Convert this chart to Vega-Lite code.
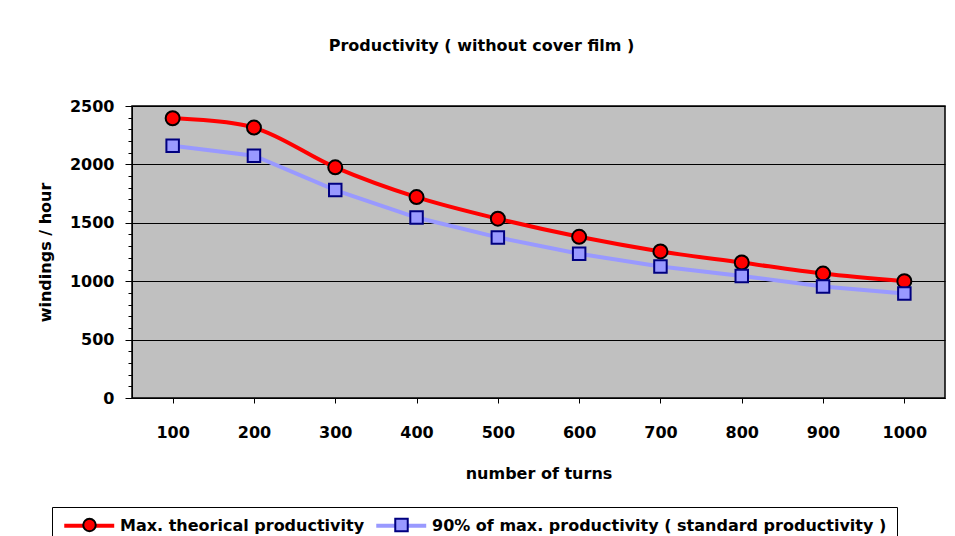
{
  "$schema": "https://vega.github.io/schema/vega-lite/v6.json",
  "width": 813,
  "height": 292,
  "autosize": "none",
  "padding": {"left": 132, "top": 106, "right": 10, "bottom": 138},
  "background": "white",
  "title": {
    "text": "Productivity ( without cover film )",
    "font": "DejaVu Sans",
    "fontSize": 16,
    "fontWeight": "bold",
    "color": "black",
    "anchor": "middle",
    "dx": -57,
    "offset": 44
  },
  "data": {
    "values": [
      {"turns": 100, "series": "Max. theorical productivity", "value": 2395},
      {"turns": 200, "series": "Max. theorical productivity", "value": 2315},
      {"turns": 300, "series": "Max. theorical productivity", "value": 1975},
      {"turns": 400, "series": "Max. theorical productivity", "value": 1720},
      {"turns": 500, "series": "Max. theorical productivity", "value": 1535},
      {"turns": 600, "series": "Max. theorical productivity", "value": 1380},
      {"turns": 700, "series": "Max. theorical productivity", "value": 1255},
      {"turns": 800, "series": "Max. theorical productivity", "value": 1160},
      {"turns": 900, "series": "Max. theorical productivity", "value": 1065},
      {"turns": 1000, "series": "Max. theorical productivity", "value": 1000},
      {"turns": 100, "series": "90% of max. productivity ( standard productivity )", "value": 2160},
      {"turns": 200, "series": "90% of max. productivity ( standard productivity )", "value": 2075},
      {"turns": 300, "series": "90% of max. productivity ( standard productivity )", "value": 1780},
      {"turns": 400, "series": "90% of max. productivity ( standard productivity )", "value": 1545},
      {"turns": 500, "series": "90% of max. productivity ( standard productivity )", "value": 1375},
      {"turns": 600, "series": "90% of max. productivity ( standard productivity )", "value": 1235},
      {"turns": 700, "series": "90% of max. productivity ( standard productivity )", "value": 1125},
      {"turns": 800, "series": "90% of max. productivity ( standard productivity )", "value": 1045},
      {"turns": 900, "series": "90% of max. productivity ( standard productivity )", "value": 955},
      {"turns": 1000, "series": "90% of max. productivity ( standard productivity )", "value": 895}
    ]
  },
  "encoding": {
    "x": {
      "field": "turns",
      "type": "ordinal",
      "title": "number of turns",
      "axis": {
        "labelAngle": 0,
        "labelFontSize": 16,
        "labelPadding": 21,
        "tickSize": 5,
        "titleFontSize": 16,
        "titleY": 75,
        "titleBaseline": "middle",
        "grid": false
      }
    },
    "y": {
      "field": "value",
      "type": "quantitative",
      "title": "windings / hour",
      "scale": {"domain": [0, 2500], "nice": false},
      "axis": {
        "values": [0, 100, 200, 300, 400, 500, 600, 700, 800, 900, 1000, 1100, 1200, 1300, 1400, 1500, 1600, 1700, 1800, 1900, 2000, 2100, 2200, 2300, 2400, 2500],
        "format": "d",
        "labelExpr": "datum.value % 500 === 0 ? datum.label : ''",
        "gridOpacity": {"condition": {"test": "datum.value % 500 === 0", "value": 1}, "value": 0},
        "tickSize": {"condition": {"test": "datum.value % 500 === 0", "value": 7}, "value": 4},
        "labelPadding": 11,
        "labelFontSize": 16,
        "labelOverlap": false,
        "labelFlush": false,
        "titleFontSize": 16,
        "titleAngle": -90,
        "titleX": -87,
        "titleY": 146,
        "titleAlign": "center",
        "titleBaseline": "middle"
      }
    }
  },
  "layer": [
    {
      "transform": [{"filter": "datum.series === 'Max. theorical productivity'"}],
      "mark": {"type": "line", "interpolate": "catmull-rom", "strokeWidth": 4},
      "encoding": {
        "stroke": {
          "field": "series",
          "type": "nominal",
          "scale": {
            "domain": ["Max. theorical productivity", "90% of max. productivity ( standard productivity )"],
            "range": ["#FF0000", "#9999FF"]
          },
          "legend": {
            "orient": "none",
            "legendX": -80,
            "legendY": 401,
            "direction": "horizontal",
            "title": null,
            "symbolType": "M-1,0H7",
            "symbolSize": 156,
            "symbolStrokeWidth": 4,
            "labelFont": "DejaVu Sans",
            "labelFontSize": 16,
            "labelFontWeight": "bold",
            "labelColor": "black",
            "labelOffset": 41,
            "labelLimit": 0,
            "columnPadding": 3,
            "padding": 10,
            "strokeColor": "black",
            "fillColor": "white",
            "zindex": 1
          }
        }
      }
    },
    {
      "transform": [{"filter": "datum.series === 'Max. theorical productivity'"}],
      "mark": {"type": "point", "shape": "circle", "filled": true, "size": 196, "stroke": "black", "strokeWidth": 2, "opacity": 1},
      "encoding": {
        "fill": {
          "field": "series",
          "type": "nominal",
          "scale": {"range": ["#FF0000"]},
          "legend": {
            "orient": "none",
            "legendX": -60.5,
            "legendY": 401,
            "direction": "horizontal",
            "title": null,
            "symbolType": "circle",
            "symbolSize": 156,
            "symbolStrokeWidth": 2,
            "symbolStrokeColor": "black",
            "symbolOpacity": 1,
            "labelFont": "DejaVu Sans",
            "labelFontSize": 16,
            "labelFontWeight": "bold",
            "labelOpacity": 0,
            "labelOffset": 43,
            "labelLimit": 0,
            "padding": 10,
            "zindex": 2
          }
        }
      }
    },
    {
      "transform": [{"filter": "datum.series !== 'Max. theorical productivity'"}],
      "mark": {"type": "line", "strokeWidth": 4},
      "encoding": {
        "stroke": {"field": "series", "type": "nominal"}
      }
    },
    {
      "transform": [{"filter": "datum.series !== 'Max. theorical productivity'"}],
      "mark": {"type": "point", "shape": "square", "filled": true, "size": 156, "stroke": "#000080", "strokeWidth": 2, "opacity": 1},
      "encoding": {
        "fill": {
          "field": "series",
          "type": "nominal",
          "scale": {"range": ["#9999FF"]},
          "legend": {
            "orient": "none",
            "legendX": 251.5,
            "legendY": 401,
            "direction": "horizontal",
            "title": null,
            "symbolType": "square",
            "symbolSize": 156,
            "symbolStrokeWidth": 2,
            "symbolStrokeColor": "#000080",
            "symbolOpacity": 1,
            "labelFont": "DejaVu Sans",
            "labelFontSize": 16,
            "labelFontWeight": "bold",
            "labelOpacity": 0,
            "labelOffset": 43,
            "labelLimit": 0,
            "padding": 10,
            "zindex": 2
          }
        }
      }
    }
  ],
  "resolve": {"scale": {"fill": "independent"}},
  "config": {
    "font": "DejaVu Sans",
    "view": {"fill": "#C0C0C0", "stroke": "black", "strokeWidth": 1.5},
    "axis": {
      "labelFont": "DejaVu Sans",
      "labelFontWeight": "bold",
      "labelColor": "black",
      "titleFont": "DejaVu Sans",
      "titleFontWeight": "bold",
      "titleColor": "black",
      "domainColor": "black",
      "tickColor": "black",
      "gridColor": "black",
      "gridWidth": 1
    }
  }
}
